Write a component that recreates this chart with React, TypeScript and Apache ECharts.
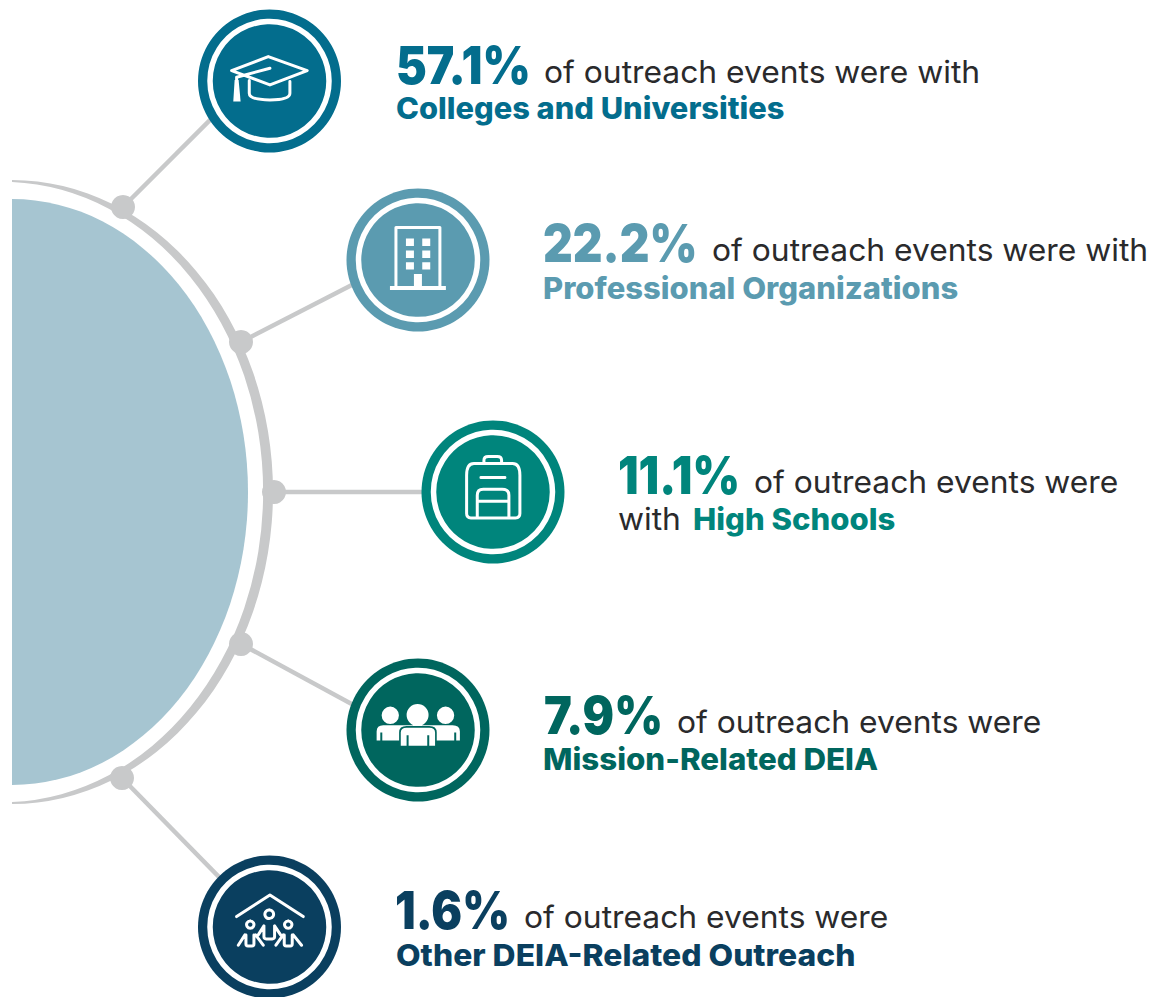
import React, { useEffect, useRef } from "react";
import * as echarts from "echarts";

const percents = ["57.1%", "22.2%", "11.1%", "7.9%", "1.6%"];
const phrases = [
  "of outreach events were with",
  "of outreach events were with",
  "of outreach events were",
  "of outreach events were",
  "of outreach events were",
];
const categories = [
  "Colleges and Universities",
  "Professional Organizations",
  "High Schools",
  "Mission-Related DEIA",
  "Other DEIA-Related Outreach",
];
const colors = ["#036d8d", "#5b9bb0", "#00857c", "#00665e", "#0a3f5f"];

const FONT = "Inter";
const DARK = "#2a2a2c";
const GREY = "#c8c9ca";

const layout = [
  { cx: 269.5, cy: 81, bx: 123, by: 207, lx: 269, ly: 61, crop: [190, 0], pctX: 396, restX: 544, catX: 396, y1: 65, y2: 108, pctS: 0.89, catS: 1.028 },
  { cx: 418, cy: 260, bx: 241, by: 342, lx: 418, ly: 251, crop: [340, 180], pctX: 543, restX: 712, catX: 543, y1: 243, y2: 288, pctS: 0.885, catS: 1.033 },
  { cx: 493, cy: 492, bx: 274, by: 492, lx: 493, ly: 492, crop: [415, 412], pctX: 618, restX: 754, catX: 693, y1: 475, y2: 519, pctS: 0.875, catS: 1.036 },
  { cx: 418, cy: 730, bx: 241, by: 644, lx: 418, ly: 740, crop: [340, 650], pctX: 544, restX: 677, catX: 543, y1: 715, y2: 759, pctS: 0.9, catS: 1.042 },
  { cx: 269.5, cy: 927, bx: 122, by: 778, lx: 269, ly: 928, crop: [190, 840], pctX: 395, restX: 524, catX: 396, y1: 910, y2: 955, pctS: 0.88, catS: 1.062 },
];

const strokePaths = [
  "M125 212 L235 170 L352 212 L240 255 Z M240 205 L140 232 M140 232 L140 245 M178 242 L178 280 Q178 300 240 300 Q300 300 300 280 L300 245",
  "M168 320 L168 143 L300 143 L300 320",
  "M177 155 L293 155 Q315 155 315 190 L315 305 Q315 318 302 318 L168 318 Q155 318 155 305 L155 190 Q155 155 177 155 Z M207 155 L207 145 Q207 134 220 134 L247 134 Q260 134 260 145 L260 155 M198 197 L270 197 M187 318 L187 250 Q187 232 205 232 L262 232 Q282 232 282 250 L282 318 M187 268 L282 268",
  "",
  "M140 230 L240 165 L340 230 M238 210 A13 13 0 1 1 237.9 210 M181 243 A11 11 0 1 1 180.9 243 M295 243 A11 11 0 1 1 294.9 243 M222 258 L222 290 Q222 297 229 297 L247 297 Q254 297 254 290 L254 258 M222 258 L205 285 M254 258 L272 285 M168 285 L168 312 Q168 318 174 318 L186 318 Q192 318 192 312 L192 285 M165 285 L145 316 M197 285 L220 316 M283 285 L283 312 Q283 318 289 318 L301 318 Q307 318 307 312 L307 285 M280 285 L258 316 M310 285 L335 316",
];
const fillPaths = [
  "M134 240 L146 240 L152 305 L130 305 Z",
  "M150 318 L318 318 L318 330 L150 330 Z M222 282 L246 282 L246 320 L222 320 Z M198 176 L222 176 L222 198 L198 198 Z M247 176 L271 176 L271 198 L247 198 Z M198 212 L222 212 L222 234 L198 234 Z M247 212 L271 212 L271 234 L247 234 Z M198 247 L222 247 L222 269 L198 269 Z M247 247 L271 247 L271 269 L247 269 Z",
  "",
  "M125 196 A26 26 0 1 1 177 196 A26 26 0 1 1 125 196 Z M200 195 A33 33 0 1 1 266 195 A33 33 0 1 1 200 195 Z M291 196 A26 26 0 1 1 343 196 A26 26 0 1 1 291 196 Z M110 272 L110 245 Q110 226 130 226 L338 226 Q360 226 360 245 L360 272 L110 272 Z",
  "",
];
const People = "M180 290 L180 248 Q180 231 200 231 L268 231 Q288 231 288 248 L288 290 Z";
const PeopleSlits = "M124 248 L124 274 M346 248 L346 274 M203 256 L203 292 M265 256 L265 292";

const halo = "M12 199 A236 293 0 0 1 12 785 Z";
const crescent = "M12 180 A261 312 0 0 1 12 804 L12 802 A260.5 310.2 0 0 0 12 182 Z";

function reg(name: string, d: string) {
  echarts.graphic.registerShape(name, echarts.graphic.extendPath(d, {}));
}

function buildGraphics() {
  reg("haloShape", halo);
  reg("crescentShape", crescent);
  reg("peopleCenter", People);
  reg("peopleSlits", PeopleSlits);
  const els: any[] = [];
  els.push({ type: "rect", shape: { x: 0, y: 0, width: 1158, height: 997 }, style: { fill: "#fff" } });
  els.push({ type: "haloShape", style: { fill: "#a6c5d1" } });
  els.push({ type: "crescentShape", style: { fill: GREY } });
  layout.forEach((p) => {
    els.push({
      type: "line",
      shape: { x1: p.bx, y1: p.by, x2: p.lx, y2: p.ly },
      style: { stroke: GREY, lineWidth: 4.5 },
    });
    els.push({ type: "circle", shape: { cx: p.bx, cy: p.by, r: 12 }, style: { fill: GREY } });
  });
  layout.forEach((p, i) => {
    const c = colors[i];
    els.push({ type: "circle", shape: { cx: p.cx, cy: p.cy, r: 71.5 }, style: { fill: c } });
    els.push({
      type: "circle",
      shape: { cx: p.cx, cy: p.cy, r: 59.5 },
      style: { fill: "none", stroke: "#fff", lineWidth: 5.5 },
    });
    const tr = { x: p.crop[0], y: p.crop[1], scaleX: 1 / 3, scaleY: 1 / 3 };
    if (strokePaths[i]) {
      reg("iconS" + i, strokePaths[i]);
      els.push({
        type: "iconS" + i,
        ...tr,
        style: { fill: "none", stroke: "#fff", lineWidth: 9, lineCap: "round", lineJoin: "round" },
      });
    }
    if (fillPaths[i]) {
      reg("iconF" + i, fillPaths[i]);
      els.push({ type: "iconF" + i, ...tr, style: { fill: "#fff" } });
    }
    if (i === 3) {
      els.push({
        type: "peopleCenter",
        ...tr,
        style: { fill: "#fff", stroke: c, lineWidth: 5 },
      });
      els.push({
        type: "peopleSlits",
        ...tr,
        style: { fill: "none", stroke: c, lineWidth: 6 },
      });
    }
    const txt = (x: number, y: number, text: string, size: number, weight: number, fill: string, sx: number) =>
      els.push({
        type: "text",
        x,
        y,
        scaleX: sx,
        style: { text, x: 0, y: 0, fill, font: `${weight} ${size}px ${FONT}`, textAlign: "left", textVerticalAlign: "middle" },
      });
    txt(p.pctX, p.y1, percents[i], 52, 900, c, p.pctS);
    txt(p.restX, p.y1 + 7, phrases[i], 31, 400, DARK, 1.026);
    if (i === 2) txt(p.pctX, p.y2, "with", 31, 400, DARK, 1.026);
    txt(p.catX, p.y2, categories[i], 30, 800, c, p.catS);
  });
  return els;
}

export default function App() {
  const ref = useRef<HTMLDivElement>(null);
  useEffect(() => {
    const chart = echarts.init(ref.current!, undefined, { renderer: "svg" });
    chart.setOption({ animation: false, graphic: { elements: buildGraphics() } });
    return () => chart.dispose();
  }, []);
  return <div ref={ref} style={{ position: "absolute", left: 0, top: 0, width: 1158, height: 997 }} />;
}
